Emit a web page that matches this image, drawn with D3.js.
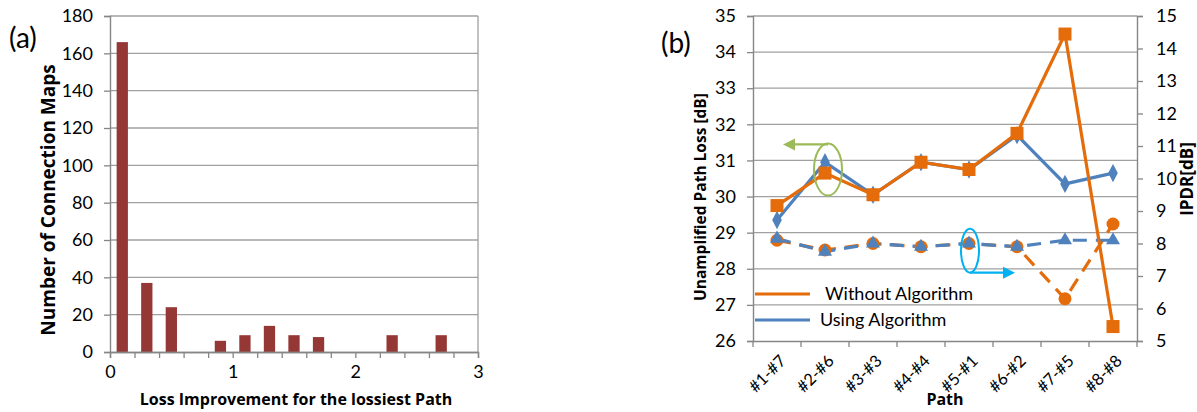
<!DOCTYPE html>
<html>
<head>
<meta charset="utf-8">
<script src="https://cdnjs.cloudflare.com/ajax/libs/d3/7.8.5/d3.min.js"></script>
<style>
  body { margin: 0; background: #fff; }
  svg text { font-family: Lato, "Open Sans", sans-serif; fill: #000; }
  svg text.title { font-family: "Open Sans", sans-serif; font-weight: bold; }
</style>
</head>
<body>
<svg id="chart" width="1197" height="412"></svg>
<script>
"use strict";

// ---- data (a): histogram
const binCenters = [0.1, 0.3, 0.5, 0.7, 0.9, 1.1, 1.3, 1.5, 1.7, 1.9, 2.1, 2.3, 2.5, 2.7, 2.9];
const binCounts = [166, 37, 24, 0, 6, 9, 14, 9, 8, 0, 0, 9, 0, 9, 0];
const histYTicks = [0, 20, 40, 60, 80, 100, 120, 140, 160, 180];
const histXTicks = [0, 1, 2, 3];

// ---- data (b): path loss / IPDR
const paths = ["#1-#7", "#2-#6", "#3-#3", "#4-#4", "#5-#1", "#6-#2", "#7-#5", "#8-#8"];
const lossWithout = [29.75, 30.65, 30.05, 30.95, 30.75, 31.75, 34.5, 26.4];
const lossUsing = [29.35, 30.95, 30.05, 30.95, 30.75, 31.7, 30.35, 30.65];
const ipdrWithout = [8.1, 7.8, 8.0, 7.9, 8.0, 7.9, 6.3, 8.6];
const ipdrUsing = [8.15, 7.75, 8.0, 7.9, 8.0, 7.9, 8.1, 8.1];
const lossTicks = [26, 27, 28, 29, 30, 31, 32, 33, 34, 35];
const ipdrTicks = [5, 6, 7, 8, 9, 10, 11, 12, 13, 14, 15];

const ORANGE = "#E46C0A", BLUE = "#4F81BD", BAR = "#953735", GRID = "#A0A0A0";
const TICK_FS = "18px";

const svg = d3.select("#chart");

// ================= chart (a) =================
var a = { left: 110, right: 478, top: 16, bottom: 352 };
a.x = d3.scaleLinear().domain([0, 3]).range([a.left, a.right]);
a.y = d3.scaleLinear().domain([0, 180]).range([a.bottom, a.top]);

var ga = svg.append("g");

// grid
ga.selectAll("line.grid")
  .data(histYTicks.slice(1))
  .enter().append("line")
  .attr("x1", a.left).attr("x2", a.right)
  .attr("y1", d => a.y(d)).attr("y2", d => a.y(d))
  .attr("stroke", GRID).attr("stroke-width", 1.3);

ga.append("line")
  .attr("x1", a.right).attr("x2", a.right)
  .attr("y1", a.top).attr("y2", a.bottom)
  .attr("stroke", GRID).attr("stroke-width", 1.3);

// bars
const barW = a.x(0.092) - a.x(0);
ga.selectAll("rect.bar")
  .data(binCenters.map((c, i) => ({ c: c, v: binCounts[i] })))
  .enter().append("rect")
  .attr("x", d => a.x(d.c) - barW / 2)
  .attr("width", barW)
  .attr("y", d => a.y(d.v))
  .attr("height", d => a.y(0) - a.y(d.v))
  .attr("fill", BAR);

// y axis
var ayAxis = ga.append("g")
  .attr("transform", "translate(" + a.left + ",0)")
  .call(d3.axisLeft(a.y).tickValues(histYTicks).tickSize(6).tickPadding(11));
// x axis
var axAxis = ga.append("g")
  .attr("transform", "translate(0," + a.bottom + ")")
  .call(d3.axisBottom(a.x).tickValues(d3.range(0, 3.01, 0.2)).tickSize(6).tickFormat(""));
ga.append("g")
  .attr("transform", "translate(0," + a.bottom + ")")
  .call(d3.axisBottom(a.x).tickValues(histXTicks).tickSize(0).tickPadding(13).tickFormat(d3.format("d")));

ga.selectAll(".domain").attr("stroke", "#868686").attr("stroke-width", 1.4);
ga.selectAll(".tick line").attr("stroke", "#868686").attr("stroke-width", 1.3);
ga.selectAll(".tick text").style("font-size", TICK_FS).style("fill", "#000");

ga.append("text").attr("class", "title")
  .attr("transform", "translate(55,200) rotate(-90)")
  .attr("text-anchor", "middle")
  .style("font-size", "19px")
  .text("Number of Connection Maps");

ga.append("text").attr("class", "title")
  .attr("x", 296).attr("y", 405)
  .attr("text-anchor", "middle")
  .style("font-size", "16px")
  .text("Loss Improvement for the lossiest Path");

ga.append("text")
  .attr("x", 9).attr("y", 48)
  .style("font-size", "28px")
  .text("(a)");

// ================= chart (b) =================
var b = { left: 753, right: 1137, top: 16, bottom: 341 };
b.x = d3.scaleBand().domain(paths).range([b.left, b.right]);
b.yL = d3.scaleLinear().domain([26, 35]).range([b.bottom, b.top]);
b.yR = d3.scaleLinear().domain([5, 15]).range([b.bottom, b.top]);
const cx = d => b.x(d) + b.x.bandwidth() / 2;

var gb = svg.append("g");

gb.selectAll("line.grid")
  .data(lossTicks.slice(1))
  .enter().append("line")
  .attr("x1", b.left).attr("x2", b.right)
  .attr("y1", d => b.yL(d)).attr("y2", d => b.yL(d))
  .attr("stroke", GRID).attr("stroke-width", 1.3);

var bL = gb.append("g")
  .attr("transform", "translate(" + b.left + ",0)")
  .call(d3.axisLeft(b.yL).tickValues(lossTicks).tickSize(6).tickPadding(11));
var bR = gb.append("g")
  .attr("transform", "translate(" + b.right + ",0)")
  .call(d3.axisRight(b.yR).tickValues(ipdrTicks).tickSize(6).tickPadding(13));
var bX = gb.append("g")
  .attr("transform", "translate(0," + b.bottom + ")")
  .call(d3.axisBottom(b.x).tickSize(0).tickFormat(""));
// band boundary ticks
gb.selectAll("line.btick")
  .data(paths.concat(["end"]))
  .enter().append("line")
  .attr("x1", (d, i) => b.left + i * b.x.bandwidth())
  .attr("x2", (d, i) => b.left + i * b.x.bandwidth())
  .attr("y1", b.bottom).attr("y2", b.bottom + 6)
  .attr("stroke", "#868686").attr("stroke-width", 1.3);
// category labels, rotated
gb.selectAll("text.cat")
  .data(paths)
  .enter().append("text")
  .attr("text-anchor", "end")
  .attr("dy", "0.35em")
  .attr("transform", d => "translate(" + (cx(d) + 6) + "," + (b.bottom + 17) + ") rotate(-45)")
  .style("font-size", "16.5px")
  .text(d => d);

gb.selectAll(".domain").attr("stroke", "#868686").attr("stroke-width", 1.4);
gb.selectAll(".tick line").attr("stroke", "#868686").attr("stroke-width", 1.3);
bL.selectAll(".tick text").style("font-size", TICK_FS);
bR.selectAll(".tick text").style("font-size", TICK_FS);

// lines
const lineL = d3.line().x((d, i) => cx(paths[i])).y(d => b.yL(d));
const lineR = d3.line().x((d, i) => cx(paths[i])).y(d => b.yR(d));

gb.append("path").datum(ipdrWithout).attr("d", lineR)
  .attr("fill", "none").attr("stroke", ORANGE).attr("stroke-width", 3.2)
  .attr("stroke-dasharray", "14,9");
gb.append("path").datum(ipdrUsing).attr("d", lineR)
  .attr("fill", "none").attr("stroke", BLUE).attr("stroke-width", 3.2)
  .attr("stroke-dasharray", "14,9");
gb.append("path").datum(lossUsing).attr("d", lineL)
  .attr("fill", "none").attr("stroke", BLUE).attr("stroke-width", 3.2);
gb.append("path").datum(lossWithout).attr("d", lineL)
  .attr("fill", "none").attr("stroke", ORANGE).attr("stroke-width", 3.2);

// markers
gb.selectAll("circle.ipdrW").data(ipdrWithout).enter().append("circle")
  .attr("cx", (d, i) => cx(paths[i])).attr("cy", d => b.yR(d)).attr("r", 6.5)
  .attr("fill", ORANGE);
gb.selectAll("path.ipdrU").data(ipdrUsing).enter().append("path")
  .attr("d", d3.symbol().type(d3.symbolTriangle).size(85))
  .attr("transform", (d, i) => "translate(" + cx(paths[i]) + "," + b.yR(d) + ")")
  .attr("fill", BLUE);
gb.selectAll("path.lossU").data(lossUsing).enter().append("path")
  .attr("d", d3.symbol().type(d3.symbolDiamond).size(80))
  .attr("transform", (d, i) => "translate(" + cx(paths[i]) + "," + b.yL(d) + ") scale(1,1.1)")
  .attr("fill", BLUE);
gb.selectAll("rect.lossW").data(lossWithout).enter().append("rect")
  .attr("x", (d, i) => cx(paths[i]) - 6.5).attr("y", d => b.yL(d) - 6.5)
  .attr("width", 13).attr("height", 13)
  .attr("fill", ORANGE);

// annotations: ellipses with arrows
const GREEN = "#9BBB59", CYAN = "#00B0F0";
const gEx = cx(paths[1]) + 3, gEy = b.yL(30.75);
gb.append("ellipse")
  .attr("cx", gEx).attr("cy", gEy).attr("rx", 14).attr("ry", 26)
  .attr("fill", "none").attr("stroke", GREEN).attr("stroke-width", 2);
gb.append("line")
  .attr("x1", gEx).attr("x2", 793).attr("y1", gEy - 25).attr("y2", gEy - 25)
  .attr("stroke", GREEN).attr("stroke-width", 2.2);
gb.append("path")
  .attr("d", "M783," + (gEy - 25) + "l12,-6l0,12z")
  .attr("fill", GREEN);

const cEx = cx(paths[4]) + 1, cEy = b.yR(7.78);
gb.append("ellipse")
  .attr("cx", cEx).attr("cy", cEy).attr("rx", 9).attr("ry", 22)
  .attr("fill", "none").attr("stroke", CYAN).attr("stroke-width", 2);
gb.append("line")
  .attr("x1", cEx).attr("x2", 1005).attr("y1", cEy + 22).attr("y2", cEy + 22)
  .attr("stroke", CYAN).attr("stroke-width", 2.2);
gb.append("path")
  .attr("d", "M1015," + (cEy + 22) + "l-12,-6l0,12z")
  .attr("fill", CYAN);

// legend
const legend = [{ name: "Without Algorithm", color: ORANGE, y: 294, tx: 825 },
                { name: "Using Algorithm", color: BLUE, y: 320, tx: 820 }];
legend.forEach(function(l) {
  gb.append("line")
    .attr("x1", 755).attr("x2", 810).attr("y1", l.y).attr("y2", l.y)
    .attr("stroke", l.color).attr("stroke-width", 3.2);
  gb.append("text")
    .attr("x", l.tx).attr("y", l.y + 6)
    .style("font-size", "18px")
    .text(l.name);
});

gb.append("text").attr("class", "title")
  .attr("transform", "translate(706,197) rotate(-90)")
  .attr("text-anchor", "middle")
  .style("font-size", "15.5px")
  .text("Unamplified Path Loss [dB]");
gb.append("text").attr("class", "title")
  .attr("transform", "translate(1193,179) rotate(-90)")
  .attr("text-anchor", "middle")
  .style("font-size", "17px")
  .text("IPDR[dB]");
gb.append("text").attr("class", "title")
  .attr("x", 945).attr("y", 405)
  .attr("text-anchor", "middle")
  .style("font-size", "16px")
  .text("Path");
gb.append("text")
  .attr("x", 661).attr("y", 53)
  .style("font-size", "28px")
  .text("(b)");
</script>
</body>
</html>
